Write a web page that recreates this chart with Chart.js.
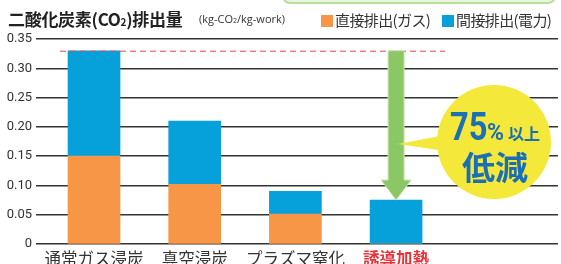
<!DOCTYPE html>
<html>
<head>
<meta charset="utf-8">
<script src="https://cdn.jsdelivr.net/npm/chart.js@4.4.0/dist/chart.umd.min.js"></script>
<style>
  body { margin: 0; background: #fff; }
  #wrap { position: relative; width: 561px; height: 264px; overflow: hidden; font-family: "Noto Sans CJK JP", sans-serif; }
  #topbox { position: absolute; left: 282px; top: -12px; width: 270px; height: 12px; background: #e9f5df; border: 2px solid #b8dd9c; border-radius: 9px; }
  #title { position: absolute; left: 8px; top: 6px; font-size: 17px; font-weight: bold; color: #222; white-space: nowrap; letter-spacing: -0.3px; }
  #title sub { font-size: 10px; vertical-align: 0; }
  #unit { position: absolute; left: 199px; top: 11px; font-size: 11px; color: #333; white-space: nowrap; font-family: "Open Sans", sans-serif; }
  .leg { position: absolute; top: 9px; font-size: 15px; color: #333; white-space: nowrap; letter-spacing: -0.6px; }
  .sw { display: inline-block; width: 12px; height: 12px; margin-right: 2px; vertical-align: -1px; }
  canvas { position: absolute; left: 0; top: 0; }
</style>
</head>
<body>
<div id="wrap">
  <canvas id="chart" width="561" height="264"></canvas>
  <div id="topbox"></div>
  <div id="title">二酸化炭素(CO<sub>2</sub>)排出量</div>
  <div id="unit">(kg-CO<sub style="font-size:7px;vertical-align:0">2</sub>/kg-work)</div>
  <div class="leg" style="left:321px"><span class="sw" style="background:#f79646"></span>直接排出(ガス)</div>
  <div class="leg" style="left:442px"><span class="sw" style="background:#06a0db"></span>間接排出(電力)</div>
</div>
<script>
// categories and values (kg-CO2/kg-work)
const categories = ['通常ガス浸炭', '真空浸炭', 'プラズマ窒化', '誘導加熱'];
const directGas = [0.15, 0.102, 0.051, 0];
const indirectPower = [0.18, 0.108, 0.039, 0.075];
const yTicks = [0, 0.05, 0.10, 0.15, 0.20, 0.25, 0.30, 0.35];
const highlight = 3;

const totals = directGas.map((v, i) => v + indirectPower[i]);

const calloutPlugin = {
    id: 'callout',
    afterDatasetsDraw(chart) {
        const ctx = chart.ctx;
        const x = chart.scales.x, y = chart.scales.y;
        const top = y.getPixelForValue(totals[0]);
        const ax = x.getPixelForValue(highlight);
        const ab = y.getPixelForValue(totals[highlight]);

        // red dashed reference line
        ctx.save();
        ctx.strokeStyle = '#f04545';
        ctx.lineWidth = 1;
        ctx.setLineDash([6, 4]);
        ctx.beginPath();
        ctx.moveTo(60, top + 0.5);
        ctx.lineTo(445, top + 0.5);
        ctx.stroke();
        ctx.restore();

        // green arrow
        ctx.save();
        ctx.fillStyle = '#8cc766';
        ctx.strokeStyle = '#c8e6b2';
        ctx.lineWidth = 1;
        ctx.beginPath();
        ctx.moveTo(ax - 8, top);
        ctx.lineTo(ax + 8, top);
        ctx.lineTo(ax + 8, ab - 20);
        ctx.lineTo(ax + 15, ab - 20);
        ctx.lineTo(ax, ab);
        ctx.lineTo(ax - 15, ab - 20);
        ctx.lineTo(ax - 8, ab - 20);
        ctx.closePath();
        ctx.fill();
        ctx.stroke();
        ctx.restore();

        // yellow bubble
        const cx = 494, cy = 142, r = 57;
        ctx.save();
        ctx.fillStyle = '#f4e93a';
        ctx.beginPath();
        ctx.moveTo(ax + 2, 144);
        ctx.lineTo(cx - r + 8, 135);
        ctx.lineTo(cx - r + 8, 151);
        ctx.closePath();
        ctx.fill();
        ctx.beginPath();
        ctx.arc(cx, cy, r, 0, Math.PI * 2);
        ctx.fill();

        ctx.fillStyle = '#1b6fb6';
        ctx.textBaseline = 'alphabetic';
        ctx.textAlign = 'left';
        ctx.save();
        ctx.translate(450, 140);
        ctx.scale(0.86, 1);
        ctx.font = 'bold 38px Roboto';
        ctx.fillText('75', 0, 0);
        ctx.restore();
        ctx.font = 'bold 23px Roboto';
        ctx.fillText('%', 487, 140);
        ctx.font = 'bold 16px "Noto Sans CJK JP"';
        ctx.fillText('以上', 508, 140);
        ctx.font = 'bold 33px "Noto Sans CJK JP"';
        ctx.fillText('低減', 462, 180);
        ctx.restore();
    }
};

new Chart(document.getElementById('chart'), {
    type: 'bar',
    data: {
        datasets: [
            {
                label: '直接排出(ガス)',
                data: directGas.map((v, i) => ({ x: i, y: v })),
                backgroundColor: '#f79646',
                barThickness: 52
            },
            {
                label: '間接排出(電力)',
                data: indirectPower.map((v, i) => ({ x: i, y: v })),
                backgroundColor: '#06a0db',
                barThickness: 52
            }
        ]
    },
    options: {
        responsive: false,
        animation: false,
        devicePixelRatio: 1,
        layout: { padding: { top: 39, right: 3, left: 0, bottom: 0 } },
        plugins: { legend: { display: false }, tooltip: { enabled: false } },
        scales: {
            x: {
                type: 'linear',
                stacked: true,
                offset: false,
                bounds: 'data',
                min: -0.576,
                max: 4.608,
                afterBuildTicks: (s) => { s.ticks = categories.map((c, i) => ({ value: i })); },
                afterFit: (s) => { s.height = 20; },
                grid: { display: false },
                border: { display: false },
                ticks: {
                    autoSkip: false,
                    maxRotation: 0,
                    padding: -3,
                    callback: (v) => categories[v],
                    color: (c) => c.index === highlight ? '#e8333a' : '#333',
                    font: (c) => ({
                        family: '"Noto Sans CJK JP"',
                        size: 16.5,
                        weight: c.index === highlight ? 'bold' : 'normal'
                    })
                }
            },
            y: {
                stacked: true,
                min: 0,
                max: 0.35,
                afterBuildTicks: (s) => { s.ticks = yTicks.map(v => ({ value: v })); },
                afterFit: (s) => { s.width = 36; },
                grid: { color: '#333', lineWidth: 1.4, drawTicks: false },
                border: { display: false },
                ticks: {
                    padding: 4,
                    color: '#333',
                    font: { family: 'Roboto', size: 13 },
                    callback: (v) => v === 0 ? '0' : v.toFixed(2)
                }
            }
        }
    },
    plugins: [calloutPlugin]
});
</script>
</body>
</html>
